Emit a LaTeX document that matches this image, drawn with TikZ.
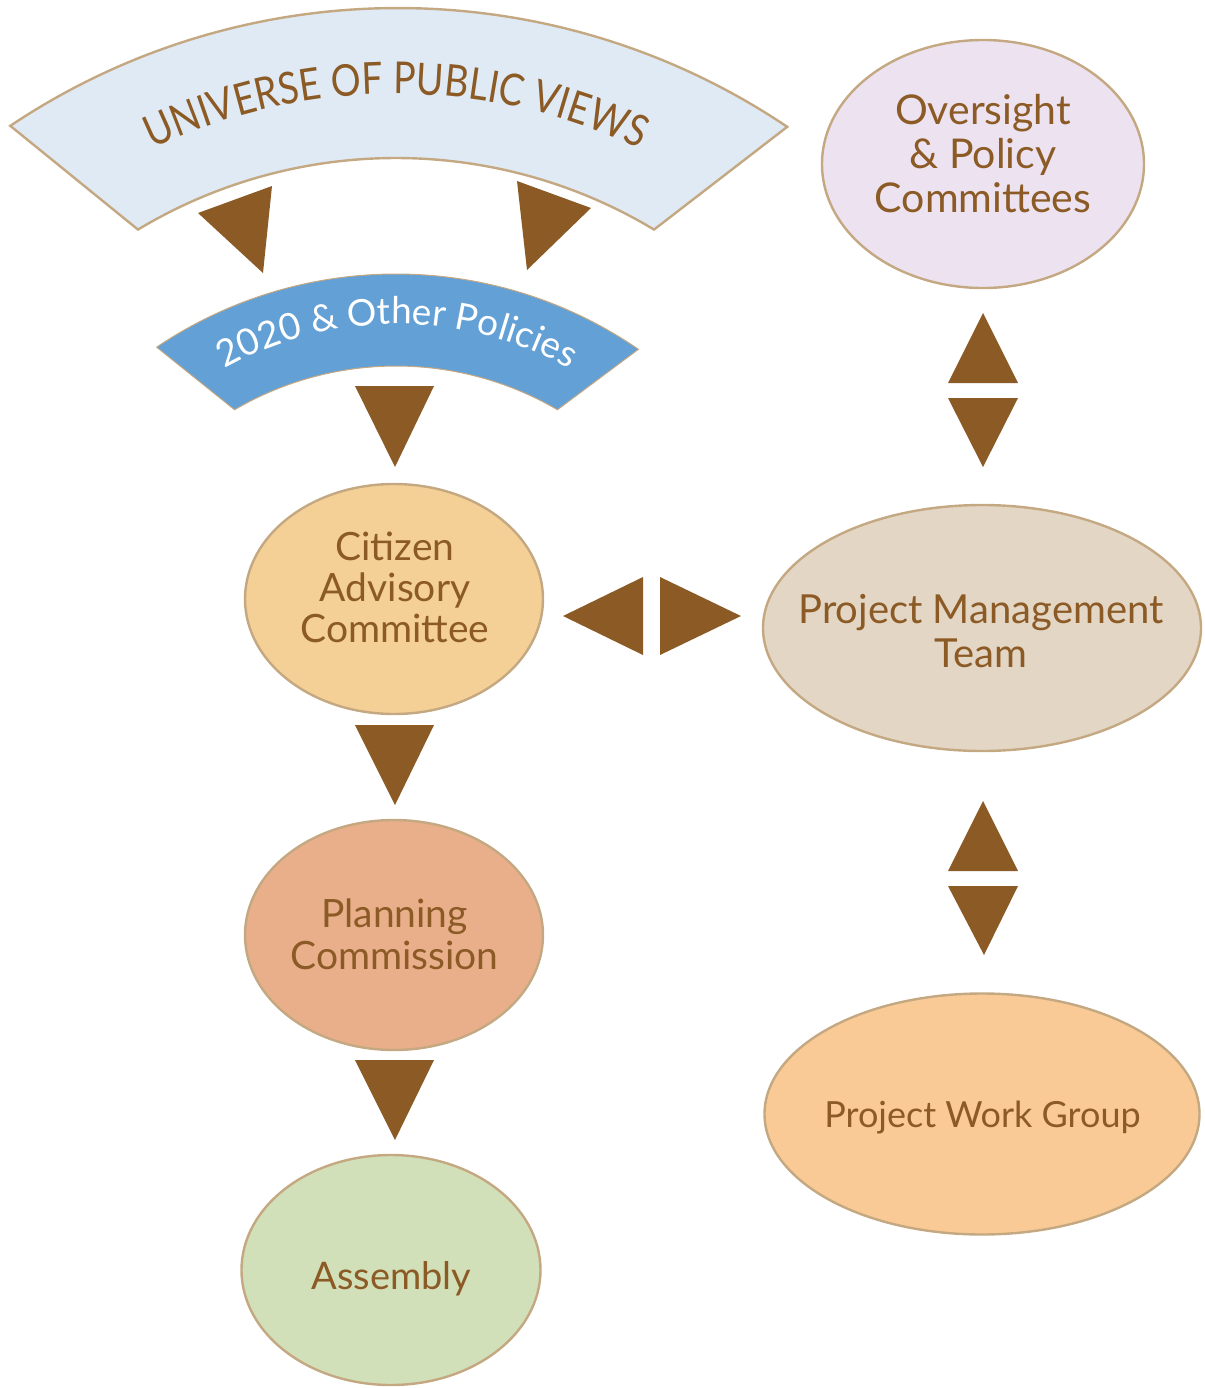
\documentclass[tikz,border=0pt]{standalone}
\usepackage{fontspec}
\setmainfont{Lato}
\newfontfamily\univfont[FakeStretch=0.85]{Lato}
\usetikzlibrary{decorations.text,shapes.geometric}
\definecolor{brn}{HTML}{8B5A25}
\definecolor{tanb}{HTML}{C4A882}
\definecolor{univfill}{HTML}{E0EAF4}
\definecolor{polfill}{HTML}{62A0D6}
\definecolor{ovfill}{HTML}{ECE2F0}
\definecolor{cacfill}{HTML}{F4D096}
\definecolor{pmtfill}{HTML}{E3D6C4}
\definecolor{pcfill}{HTML}{E9AF8B}
\definecolor{asmfill}{HTML}{D2E0B9}
\definecolor{pwgfill}{HTML}{F9CA95}
\newcommand\univsize{\univfont\fontsize{22}{22}\selectfont}
\newcommand\polsize{\fontsize{18.5}{18.5}\selectfont}
\newcommand\amp{\&}
\begin{document}
\begin{tikzpicture}[x=0.5pt,y=0.5pt,
  ell/.style={ellipse, draw=tanb, line width=1.2pt, inner sep=0pt},
  lbl/.style={text=brn, align=center, inner sep=0pt},
  tri/.style={fill=brn},
  bandline/.style={draw=tanb, line width=1.2pt}]
\useasboundingbox (0,0) rectangle (1205,-1388);

% Universe band
\path[bandline, fill=univfill]
  ([shift={(398,-705)}]123.8:697) arc[start angle=123.8, end angle=56.05, radius=697]
  -- ([shift={(396,-659)}]59:501) arc[start angle=59, end angle=121, radius=501] -- cycle;
\path[decorate, decoration={text along path, text align=center, text color=brn,
  text={|\univsize|UNIVERSE OF PUBLIC VIEWS}}]
  ([shift={(396,-662)}]125:568) arc[start angle=125, end angle=55, radius=568];

% 2020 band
\path[draw=tanb, line width=0.5pt, fill=polfill]
  ([shift={(396,-702)}]124:428) arc[start angle=124, end angle=55.5, radius=428]
  -- ([shift={(396,-686)}]59.7:320) arc[start angle=59.7, end angle=120.3, radius=320] -- cycle;
\path[decorate, decoration={text along path, text align=center, text color=white,
  text={|\polsize|2020 {\amp} Other Policies}}]
  ([shift={(397,-678)}]128:354) arc[start angle=128, end angle=52, radius=354];

% triangles
\fill[tri] (198,-213) -- (272,-186) -- (263,-273) -- cycle;
\fill[tri] (517,-181) -- (591,-208) -- (527,-270) -- cycle;
\fill[tri] (355,-386) -- (434,-386) -- (395,-467) -- cycle;
\fill[tri] (355,-725) -- (434,-725) -- (395,-805) -- cycle;
\fill[tri] (355,-1060) -- (434,-1060) -- (395,-1140) -- cycle;
\fill[tri] (983,-313) -- (948,-383) -- (1018,-383) -- cycle;
\fill[tri] (948,-398) -- (1018,-398) -- (983,-467) -- cycle;
\fill[tri] (563,-616) -- (643,-577) -- (643,-655) -- cycle;
\fill[tri] (660,-577) -- (660,-655) -- (741,-616) -- cycle;
\fill[tri] (983,-801) -- (948,-871) -- (1018,-871) -- cycle;
\fill[tri] (948,-886) -- (1018,-886) -- (984,-955) -- cycle;

% ellipses
\node[ell, fill=ovfill, minimum width=161pt, minimum height=124pt] (ov) at (983,-164) {};
\node[ell, fill=cacfill, minimum width=149pt, minimum height=115pt] (cac) at (394,-599) {};
\node[ell, fill=pmtfill, minimum width=219pt, minimum height=123pt] (pmt) at (982,-628) {};
\node[ell, fill=pcfill, minimum width=149pt, minimum height=115pt] (pc) at (394,-935) {};
\node[ell, fill=asmfill, minimum width=149.5pt, minimum height=115pt] (asm) at (391,-1270) {};
\node[ell, fill=pwgfill, minimum width=217.5pt, minimum height=120.5pt] (pwg) at (982,-1114) {};

% labels
\node[lbl, font=\fontsize{20.5}{22}\selectfont] (ovt) at (983,-153.5) {Oversight\\\& Policy\\Committees};
\node[lbl, font=\fontsize{19.5}{20.5}\selectfont] (cact) at (395,-587) {Citizen\\Advisory\\Committee};
\node[lbl, font=\fontsize{20}{22}\selectfont] (pmtt) at (981,-631.5) {Project Management\\Team};
\node[lbl, font=\fontsize{19.5}{21}\selectfont] (pct) at (394.5,-934) {Planning\\Commission};
\node[lbl, anchor=base, font=\fontsize{19}{21}\selectfont] (asmt) at (391.5,-1289) {Assembly};
\node[lbl, anchor=base, font=\fontsize{18}{21}\selectfont] (pwgt) at (982.5,-1127) {Project Work Group};
\end{tikzpicture}
\end{document}
